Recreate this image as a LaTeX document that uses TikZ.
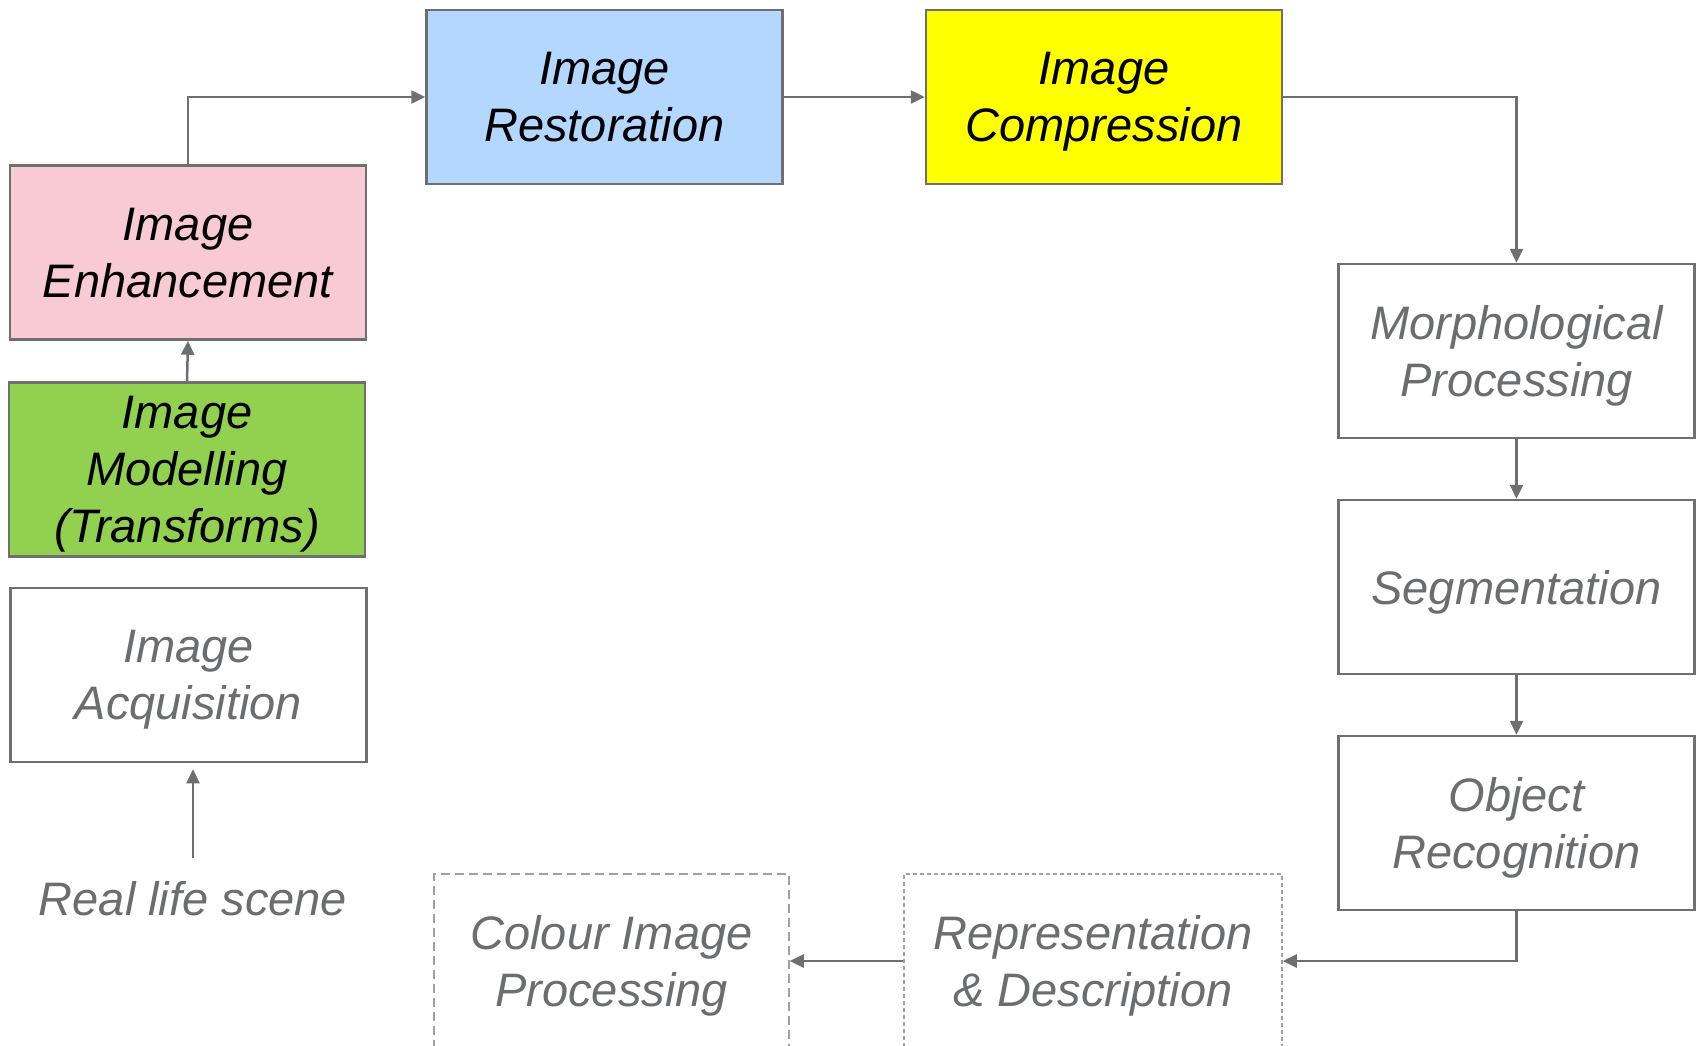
\documentclass[tikz,border=0pt]{standalone}
\usepackage{fontspec}
\setmainfont{Liberation Sans}
\usetikzlibrary{arrows.meta}
\definecolor{linegray}{HTML}{6E7070}
\definecolor{txtgray}{HTML}{6B6D6E}
\definecolor{dashgray}{HTML}{A0A0A0}
\definecolor{pinkfill}{HTML}{F8CAD4}
\definecolor{bluefill}{HTML}{B3D7FF}
\definecolor{yellowfill}{HTML}{FFFF00}
\definecolor{greenfill}{HTML}{92D050}
\begin{document}
\begin{tikzpicture}[x=1pt,y=-1pt,
  txt/.style={font=\fontsize{47}{57}\selectfont\itshape},
  box/.style={txt, draw=linegray, line width=2.5pt, minimum width=356pt, minimum height=174pt, inner sep=0pt, align=center, text=txtgray, text depth=0pt},
  colbox/.style={box, text=black},
  dbox/.style={txt, draw=dashgray, line width=1.5pt, minimum height=174pt, inner sep=0pt, align=center, text=txtgray, text depth=0pt},
  arr/.style={draw=linegray, line width=2.5pt, -{Triangle[length=14pt,width=13pt]}}
]
\useasboundingbox (0,0) rectangle (1698,1045);
\node[colbox, fill=pinkfill] (enh) at (188,252.5) {Image\\Enhancement};
\node[colbox, fill=greenfill] (mod) at (187,469.5) {Image\\Modelling\\(Transforms)};
\node[box] (acq) at (188.5,675) {Image\\Acquisition};
\node[colbox, fill=bluefill] (rest) at (604.5,97) {Image\\Restoration};
\node[colbox, fill=yellowfill] (comp) at (1104,97) {Image\\Compression};
\node[box] (morph) at (1516.5,351) {Morphological\\Processing};
\node[box] (seg) at (1516.5,587) {Segmentation};
\node[box] (obj) at (1516.5,823) {Object\\Recognition};
\node[dbox, minimum width=378pt, dash pattern=on 4pt off 3pt] (rep) at (1093,961) {Representation\\\& Description};
\node[dbox, minimum width=355pt, dash pattern=on 9pt off 5pt] (col) at (611.5,961) {Colour Image\\Processing};
\node[txt, text=txtgray, inner sep=0pt] (real) at (193,899) {Real life scene};
\coordinate (rls) at (193,858);
\draw[arr, shorten >=6pt] (rls) -- (acq.south -| rls);
\draw[arr] (mod.north) -- (enh.south);
\draw[arr] (enh.north) |- (rest.west);
\draw[arr] (rest.east) -- (comp.west);
\draw[arr] (comp.east) -| (morph.north);
\draw[arr] (morph.south) -- (seg.north);
\draw[arr] (seg.south) -- (obj.north);
\draw[arr] (obj.south) |- (rep.east);
\draw[arr] (rep.west) -- (col.east);
\end{tikzpicture}
\end{document}
